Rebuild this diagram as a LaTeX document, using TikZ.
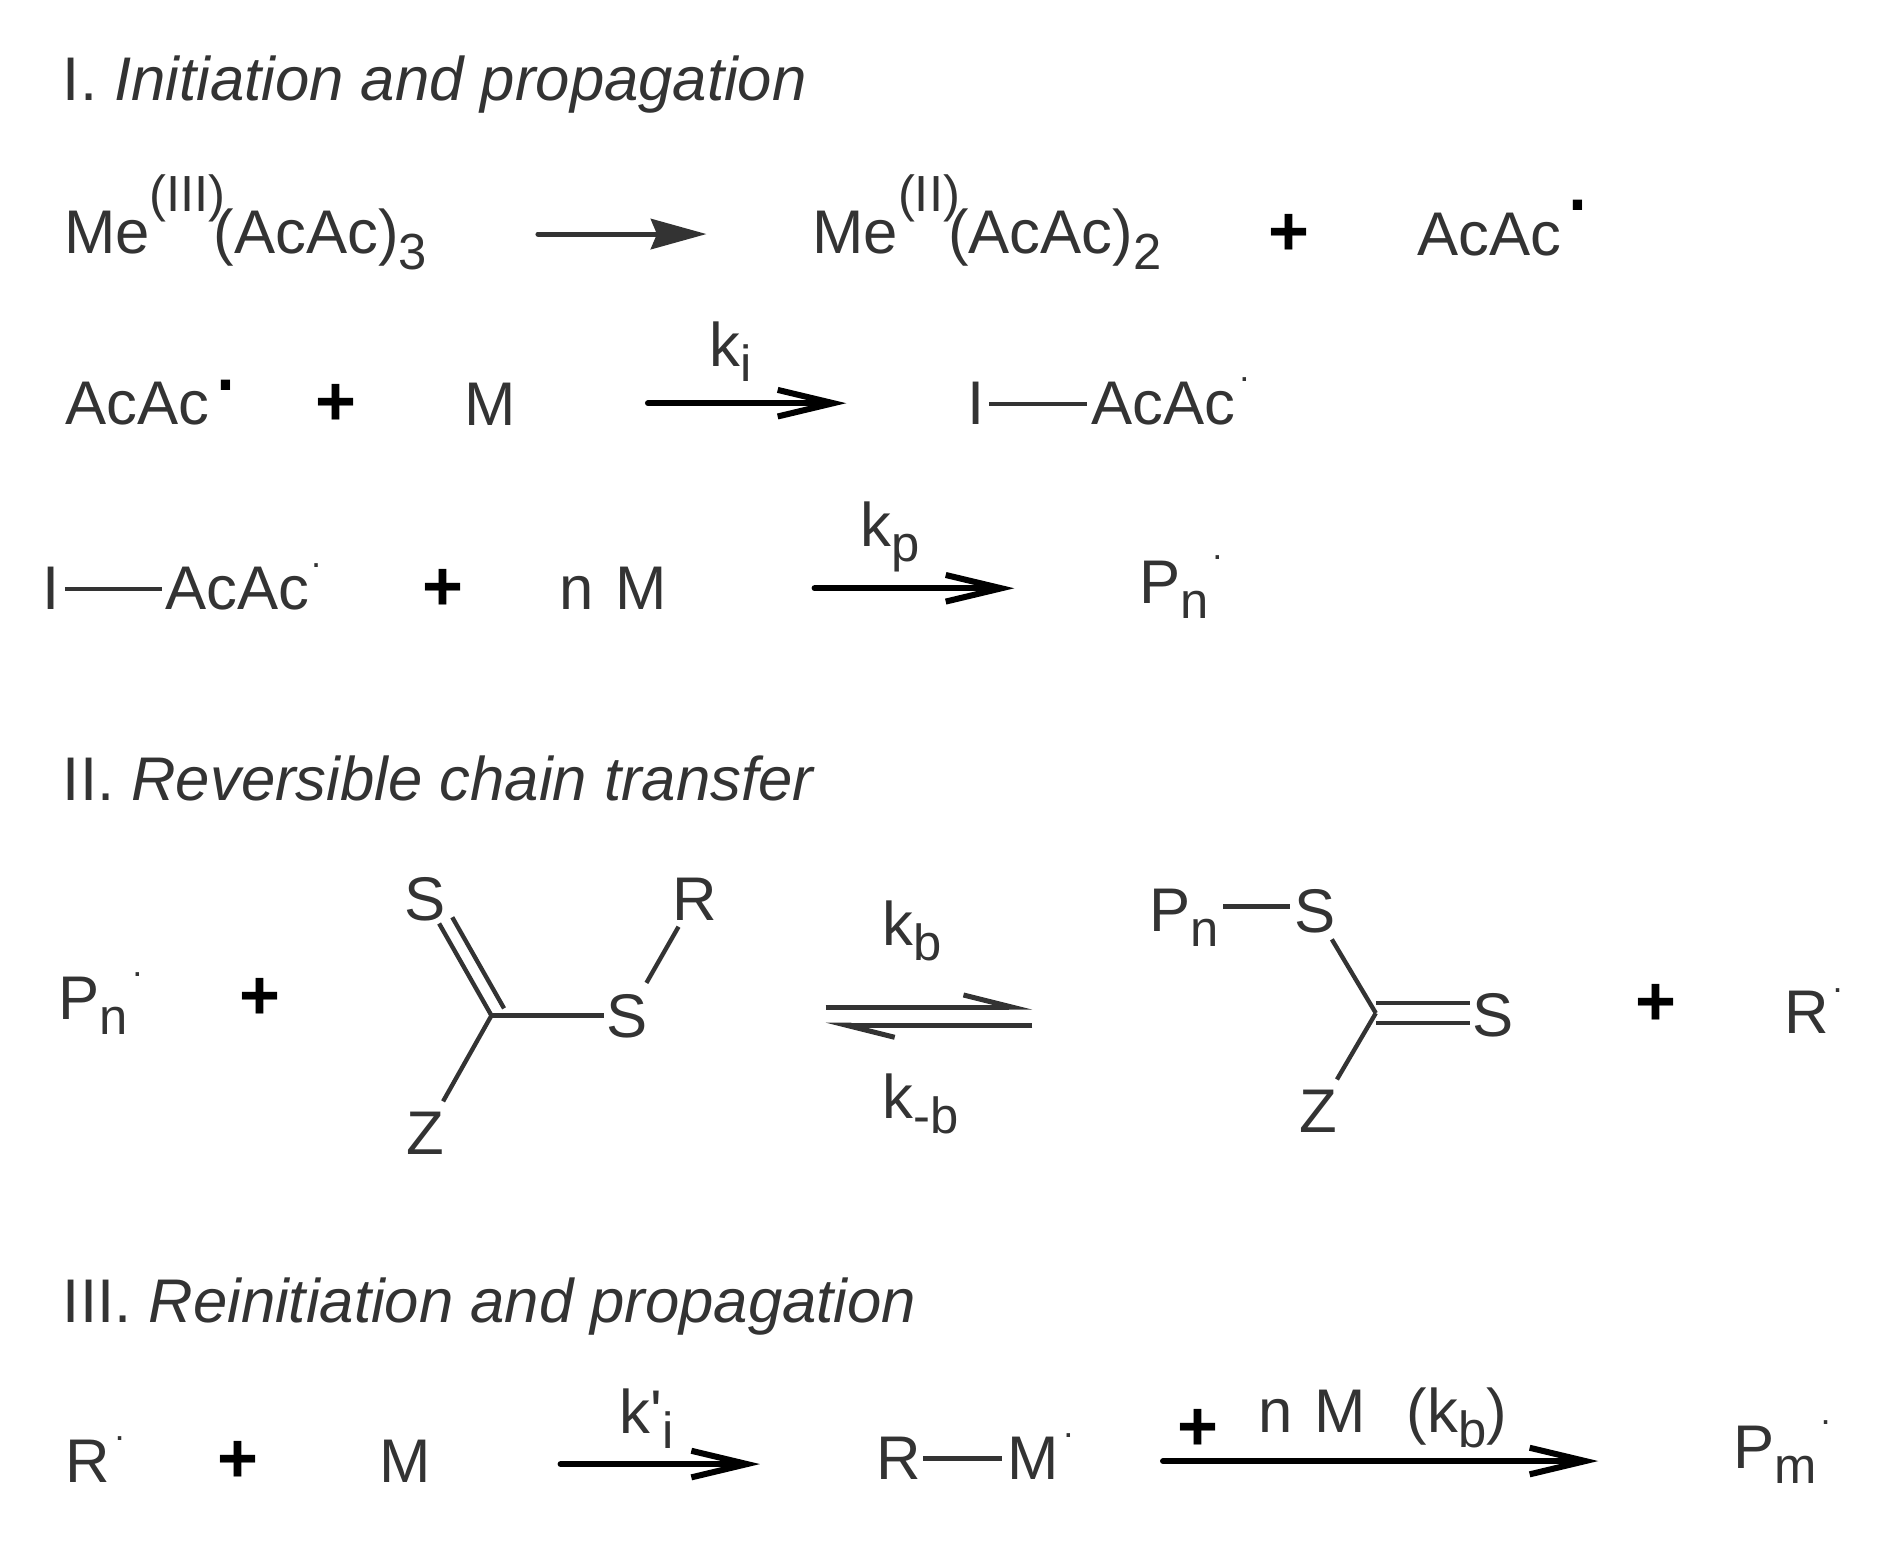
\documentclass[tikz,border=0pt]{standalone}
\usepackage{fontspec}
\setmainfont{Liberation Sans}[Ligatures=TeXOff]
\usetikzlibrary{arrows.meta,calc}
\definecolor{ink}{RGB}{51,51,51}
\newcommand{\sbs}[1]{\raisebox{-6.3pt}{\fontsize{21}{21}\selectfont #1}}
\newcommand{\sps}[1]{\raisebox{17.5pt}{\fontsize{21}{21}\selectfont #1}}
\begin{document}
\begin{tikzpicture}[x=0.5pt,y=-0.5pt,
  txt/.style={anchor=base west, inner sep=0pt, outer sep=0pt, text=ink, font=\fontsize{25.5}{30}\selectfont},
  pls/.style={anchor=center, inner sep=0pt, outer sep=0pt, text=black, font=\fontsize{29}{30}\selectfont\bfseries},
  sdot/.style={anchor=center, inner sep=0pt, outer sep=0pt, text=ink, font=\fontsize{15}{15}\selectfont},
  bdot/.style={anchor=center, inner sep=0pt, outer sep=0pt, text=black, font=\fontsize{40}{40}\selectfont},
  bond/.style={draw=ink, line width=1.8pt},
  rxn/.style={draw=black, line width=2.5pt, line cap=round, -{Straight Barb[length=23pt,width=11pt]}},
  fwd/.style={draw=ink, line width=2.1pt, line cap=round, -{Stealth[length=23pt,width=12.5pt,inset=2.5pt]}},
  eqarr/.style={draw=ink, line width=2.1pt, -{Straight Barb[harpoon,length=20pt,width=10pt]}}
]
\useasboundingbox (0,0) rectangle (1560,1290);

% titles
\node[txt] (t1) at (52,83) {I. \textit{Initiation and propagation}};
\node[txt] (t2) at (52,662) {II. \textit{Reversible chain transfer}};
\node[txt] (t3) at (52,1094) {III. \textit{Reinitiation and propagation}};

% row 1
\node[txt] (me3) at (53,210) {Me\sps{(III)}\kern-5pt(AcAc)\sbs{3}};
\coordinate (a1s) at (445,193.6);
\coordinate (a1e) at (584.4,193.6);
\draw[fwd] (a1s) -- (a1e);
\node[txt] (me2) at (672,210) {Me\sps{(II)}\kern-5pt(AcAc)\sbs{2}};
\node[pls] (p1) at (1066,194.4) {+};
\node[txt] (ac1) at (1172.5,211) {AcAc};
\node[bdot] (d1) at (1305,169.5) {.};

% row 2
\node[txt] (ac2) at (54,351) {AcAc};
\node[bdot] (d2) at (186.5,319) {.};
\node[pls] (p2) at (277.5,335) {+};
\node[txt] (m2) at (384,352) {M};
\coordinate (a2s) at (536,333.5);
\coordinate (a2e) at (700,333.5);
\draw[rxn] (a2s) -- (a2e);
\node[txt] (ki) at (587,303) {k\sbs{i}};
\node[txt] (i2) at (800,351.5) {I};
\node[txt] (ac3) at (903,351.5) {AcAc};
\node[sdot] (d3) at (1029.4,314.3) {.};
\draw[bond, shorten <=2pt, shorten >=2pt] (i2.east) -- (i2.east -| ac3.west);

% row 3
\node[txt] (i3) at (35.5,504.5) {I};
\node[txt] (ac4) at (137,504.5) {AcAc};
\node[sdot] (d4) at (261.6,468) {.};
\draw[bond, shorten <=2pt, shorten >=1.5pt] (i3.east) -- (i3.east -| ac4.west);
\node[pls] (p3) at (366,488) {+};
\node[txt] (nm3) at (462.7,504.5) {n\kern9pt M};
\coordinate (a3s) at (673.8,486.6);
\coordinate (a3e) at (839,486.6);
\draw[rxn] (a3s) -- (a3e);
\node[txt] (kp) at (711.6,452) {k\sbs{p}};
\node[txt] (pn3) at (942.7,498.8) {P\sbs{n}};
\node[sdot] (d5) at (1007,461.5) {.};

% section II
\node[txt] (pn4) at (48.5,843) {P\sbs{n}};
\node[sdot] (d6) at (113.7,806) {.};
\node[pls] (p4) at (214.7,826) {+};
\node[txt] (s1t) at (334.6,761) {S};
\node[txt] (r1) at (556,761) {R};
\node[txt] (s1r) at (502,858) {S};
\node[txt] (z1) at (336,955) {Z};
\coordinate (C1) at (406.5,840);
\draw[bond, shorten >=11.75pt] (C1) -- (s1t.center);
\draw[bond, shorten >=12.2pt] ($(C1)!6pt!-90:(s1t.center)$) -- ($(s1t.center)!6pt!90:(C1)$);
\draw[bond, shorten >=1pt] (C1) -- (C1 -| s1r.west);
\draw[bond, shorten <=15.8pt, shorten >=13.3pt] (s1r.center) -- (r1.center);
\draw[bond, shorten >=15.2pt] (C1) -- (z1.center);

\coordinate (e1) at (683,833);
\coordinate (e2) at (854,833);
\coordinate (e3) at (854,848);
\coordinate (e4) at (683,848);
\draw[eqarr] (e1) -- (e2);
\draw[eqarr] (e3) -- (e4);
\node[txt] (kb) at (730.3,782) {k\sbs{b}};
\node[txt] (kmb) at (730.3,925) {k\sbs{-b}};

\node[txt] (pn5) at (950.6,770.6) {P\sbs{n}};
\node[txt] (s2a) at (1070.6,771) {S};
\draw[bond, shorten <=2pt, shorten >=2pt] ($(s2a.west -| pn5.east)+(0,-3.6)$) -- ($(s2a.west)+(0,-3.6)$);
\coordinate (C2) at (1138,838);
\node[txt] (s2b) at (1217.6,857.7) {S};
\node[txt] (z2) at (1074.7,937) {Z};
\draw[bond, shorten <=13.7pt] (s2a.center) -- (C2);
\draw[bond, shorten >=15.4pt] (C2) -- (z2.center);
\draw[bond, shorten >=1pt] ($(C2)+(0,-8.3)$) -- ($(C2 -| s2b.west)+(0,-8.3)$);
\draw[bond, shorten >=1pt] ($(C2)+(0,8.3)$) -- ($(C2 -| s2b.west)+(0,8.3)$);
\node[pls] (p5) at (1370,831) {+};
\node[txt] (r2) at (1475.7,854.6) {R};
\node[sdot] (d7) at (1520,819) {.};

% section III
\node[txt] (r3) at (54.3,1226) {R};
\node[sdot] (d8) at (99,1189.5) {.};
\node[pls] (p6) at (197,1209) {+};
\node[txt] (m3) at (314,1226) {M};
\coordinate (a4s) at (463.7,1211);
\coordinate (a4e) at (628.6,1211);
\draw[rxn] (a4s) -- (a4e);
\node[txt] (kpi) at (512.6,1185.6) {k'\sbs{i}};
\node[txt] (r4) at (725,1224) {R};
\node[txt] (m4) at (833.2,1224) {M};
\node[sdot] (d9) at (883.7,1187.8) {.};
\draw[bond, shorten <=1pt, shorten >=2pt] (r4.east) -- (r4.east -| m4.west);
\coordinate (a5s) at (962,1208.5);
\coordinate (a5e) at (1322,1208.5);
\draw[rxn] (a5s) -- (a5e);
\node[txt] (lab5) at (974,1185) {\raisebox{-7.25pt}{\fontsize{29}{30}\selectfont\bfseries\textcolor{black}{+}}\kern16.5pt n\kern9pt M\kern16.9pt(k\sbs{b})};
\node[txt] (pm) at (1434,1214.5) {P\sbs{m}};
\node[sdot] (d10) at (1510,1177) {.};
\end{tikzpicture}
\end{document}
